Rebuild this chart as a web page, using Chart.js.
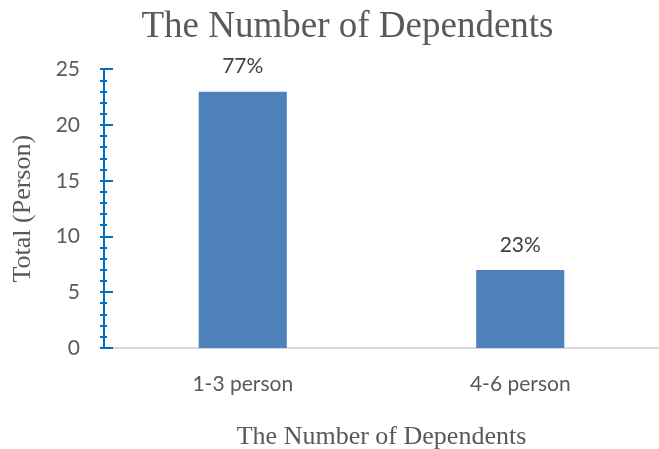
<!DOCTYPE html>
<html>
<head>
<meta charset="utf-8">
<script src="https://cdn.jsdelivr.net/npm/chart.js@4"></script>
<style>
  html, body { margin: 0; padding: 0; background: #fff; }
  #wrap { width: 659px; height: 449px; }
</style>
</head>
<body>
<div id="wrap"><canvas id="depChart"></canvas></div>
<script>
var categories = ['1-3 person', '4-6 person'];
var totals = [23, 7];
var percentLabels = ['77%', '23%'];
var yTicks = [0, 5, 10, 15, 20, 25];

// value labels above bars + crossing major/minor ticks on the y axis
var extrasPlugin = {
	id: 'extras',
	afterDatasetsDraw: function(chart){
		var ctx = chart.ctx;
		var meta = chart.getDatasetMeta(0);
		ctx.save();
		ctx.fillStyle = '#404040';
		ctx.font = '21px Lato';
		ctx.textAlign = 'center';
		ctx.textBaseline = 'middle';
		meta.data.forEach(function(bar, i){
			ctx.fillText(percentLabels[i], bar.x, bar.y - 25);
		});

		var y = chart.scales.y;
		var x0 = chart.chartArea.left;
		ctx.strokeStyle = '#0070C0';
		ctx.lineWidth = 2;
		for(var v = yTicks[0]; v <= yTicks[yTicks.length-1]; v++){
			var py = Math.round(y.getPixelForValue(v));
			var major = yTicks.indexOf(v) >= 0;
			ctx.beginPath();
			ctx.moveTo(x0 - 4, py);
			ctx.lineTo(x0 + (major ? 9 : 3), py);
			ctx.stroke();
		}
		ctx.restore();
	}
};

new Chart(document.getElementById('depChart').getContext('2d'), {
	type: 'bar',
	data: {
		labels: categories,
		datasets: [{
			data: totals,
			backgroundColor: '#4F81BD',
			categoryPercentage: 0.635,
			barPercentage: 0.5
		}]
	},
	options: {
		responsive: true,
		maintainAspectRatio: false,
		animation: false,
		layout: { padding: { left: 24, right: -12, top: 0, bottom: 0 } },
		plugins: {
			legend: { display: false },
			tooltip: { enabled: false },
			title: {
				display: true,
				text: 'The Number of Dependents',
				color: '#595959',
				font: { family: 'Liberation Serif', size: 37, weight: 'normal' },
				padding: { top: 5, bottom: 20 }
			}
		},
		scales: {
			x: {
				grid: { display: false },
				border: { color: '#D9D9D9', width: 2 },
				ticks: { color: '#595959', font: { family: 'Lato', size: 21 }, padding: 16 },
				afterFit: function(scale){ scale.height = 101; },
				title: {
					display: true,
					text: 'The Number of Dependents',
					color: '#595959',
					font: { family: 'Liberation Serif', size: 26 },
					padding: { top: 0, bottom: -4 }
				}
			},
			y: {
				min: 0,
				max: 25,
				grid: { display: false },
				border: { color: '#0070C0', width: 2 },
				afterFit: function(scale){ scale.width = 80; },
				ticks: { stepSize: 5, color: '#595959', font: { family: 'Lato', size: 21 }, padding: 16 },
				title: {
					display: true,
					text: 'Total (Person)',
					color: '#595959',
					font: { family: 'Liberation Serif', size: 26 },
					padding: { top: -16, bottom: 0 }
				}
			}
		}
	},
	plugins: [extrasPlugin]
});
</script>
</body>
</html>
